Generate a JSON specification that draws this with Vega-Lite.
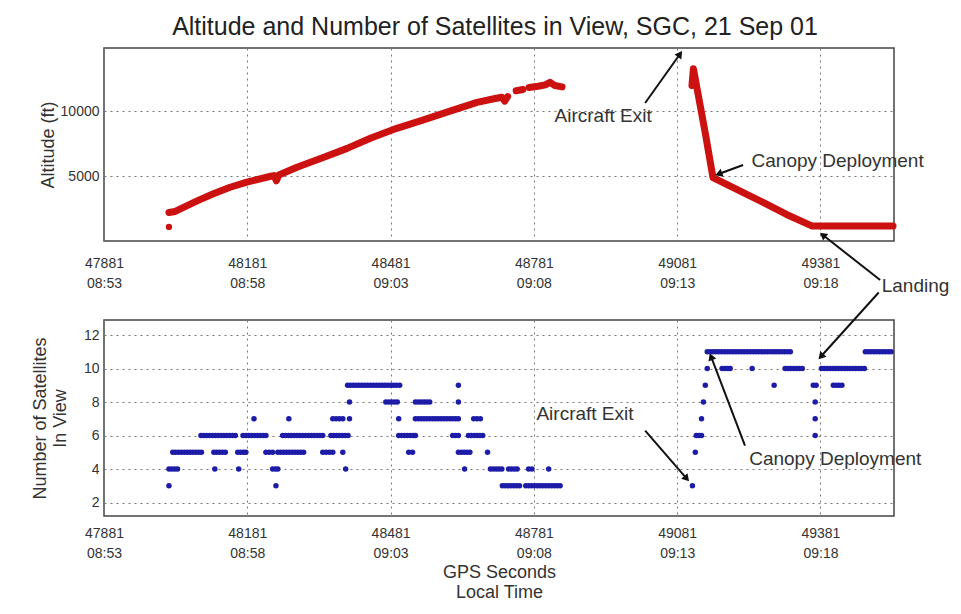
{
"$schema": "https://vega.github.io/schema/vega-lite/v6.json",
"padding": {"left": 30, "top": 14, "right": 0, "bottom": 0},
"background": "white",
"bounds": "flush",
"spacing": 79,
"config": {
  "font": "Liberation Sans",
  "view": {"stroke": "#444", "strokeWidth": 1.5},
  "axis": {"labelFont": "Liberation Sans", "labelFontSize": 14, "labelColor": "#333", "titleFont": "Liberation Sans", "titleFontSize": 18, "titleFontWeight": "normal", "titleColor": "#333", "gridDash": [2, 4], "gridColor": "#777", "gridOpacity": 1, "ticks": false, "domain": false, "labelOverlap": false, "labelFlush": false}
},
"datasets": {
  "alt": [
    {"t":48017,"alt":2200,"seg":"A"},{"t":48030,"alt":2280,"seg":"A"},{"t":48076,"alt":3100,"seg":"A"},{"t":48110,"alt":3650,"seg":"A"},{"t":48145,"alt":4150,"seg":"A"},{"t":48180,"alt":4550,"seg":"A"},{"t":48230,"alt":5000,"seg":"A"},{"t":48237,"alt":5050,"seg":"A"},{"t":48242,"alt":4650,"seg":"A"},{"t":48247,"alt":5100,"seg":"A"},{"t":48285,"alt":5700,"seg":"A"},{"t":48340,"alt":6450,"seg":"A"},{"t":48390,"alt":7150,"seg":"A"},{"t":48440,"alt":7950,"seg":"A"},{"t":48494,"alt":8700,"seg":"A"},{"t":48550,"alt":9350,"seg":"A"},{"t":48599,"alt":9950,"seg":"A"},{"t":48662,"alt":10700,"seg":"A"},{"t":48700,"alt":11000,"seg":"A"},{"t":48714,"alt":11100,"seg":"A"},{"t":48720,"alt":10800,"seg":"A"},{"t":48726,"alt":11150,"seg":"A"},
    {"t":48744,"alt":11600,"seg":"B"},{"t":48758,"alt":11700,"seg":"B"},
    {"t":48771,"alt":11850,"seg":"C"},{"t":48790,"alt":11950,"seg":"C"},{"t":48805,"alt":12050,"seg":"C"},{"t":48815,"alt":12250,"seg":"C"},{"t":48825,"alt":12000,"seg":"C"},{"t":48840,"alt":11900,"seg":"C"},
    {"t":49112,"alt":12000,"seg":"D"},{"t":49115,"alt":13300,"seg":"D"},{"t":49125,"alt":11300,"seg":"D"},{"t":49140,"alt":8300,"seg":"D"},{"t":49156,"alt":4900,"seg":"D"},{"t":49210,"alt":3900,"seg":"D"},{"t":49260,"alt":3000,"seg":"D"},{"t":49310,"alt":2050,"seg":"D"},{"t":49364,"alt":1150,"seg":"D"},{"t":49533,"alt":1150,"seg":"D"}
  ],
  "altpt": [{"t":48017,"alt":1088}],
  "sats": [
    {"t":48017,"n":3},{"t":48241,"n":3},{"t":48715,"n":3},{"t":48721,"n":3},{"t":48727,"n":3},{"t":48733,"n":3},{"t":48739,"n":3},{"t":48745,"n":3},{"t":48751,"n":3},{"t":48764,"n":3},{"t":48770,"n":3},{"t":48776,"n":3},{"t":48782,"n":3},{"t":48788,"n":3},{"t":48794,"n":3},{"t":48800,"n":3},{"t":48806,"n":3},{"t":48812,"n":3},{"t":48818,"n":3},{"t":48824,"n":3},{"t":48830,"n":3},{"t":48836,"n":3},{"t":49113,"n":3},
    {"t":48017,"n":4},{"t":48023,"n":4},{"t":48029,"n":4},{"t":48035,"n":4},{"t":48113,"n":4},{"t":48163,"n":4},{"t":48234,"n":4},{"t":48240,"n":4},{"t":48245,"n":4},{"t":48387,"n":4},{"t":48636,"n":4},{"t":48690,"n":4},{"t":48696,"n":4},{"t":48702,"n":4},{"t":48708,"n":4},{"t":48714,"n":4},{"t":48728,"n":4},{"t":48734,"n":4},{"t":48740,"n":4},{"t":48746,"n":4},{"t":48770,"n":4},{"t":48777,"n":4},{"t":48812,"n":4},
    {"t":48025,"n":5},{"t":48031,"n":5},{"t":48037,"n":5},{"t":48043,"n":5},{"t":48049,"n":5},{"t":48055,"n":5},{"t":48061,"n":5},{"t":48067,"n":5},{"t":48073,"n":5},{"t":48079,"n":5},{"t":48085,"n":5},{"t":48111,"n":5},{"t":48117,"n":5},{"t":48123,"n":5},{"t":48129,"n":5},{"t":48135,"n":5},{"t":48161,"n":5},{"t":48167,"n":5},{"t":48173,"n":5},{"t":48178,"n":5},{"t":48220,"n":5},{"t":48227,"n":5},{"t":48234,"n":5},{"t":48245,"n":5},{"t":48251,"n":5},{"t":48257,"n":5},{"t":48263,"n":5},{"t":48269,"n":5},{"t":48275,"n":5},{"t":48281,"n":5},{"t":48287,"n":5},{"t":48293,"n":5},{"t":48299,"n":5},{"t":48339,"n":5},{"t":48346,"n":5},{"t":48353,"n":5},{"t":48360,"n":5},{"t":48381,"n":5},{"t":48519,"n":5},{"t":48527,"n":5},{"t":48623,"n":5},{"t":48629,"n":5},{"t":48635,"n":5},{"t":48641,"n":5},{"t":48647,"n":5},{"t":48684,"n":5},{"t":49119,"n":5},
    {"t":48084,"n":6},{"t":48090,"n":6},{"t":48096,"n":6},{"t":48102,"n":6},{"t":48108,"n":6},{"t":48114,"n":6},{"t":48120,"n":6},{"t":48126,"n":6},{"t":48132,"n":6},{"t":48138,"n":6},{"t":48144,"n":6},{"t":48150,"n":6},{"t":48156,"n":6},{"t":48172,"n":6},{"t":48178,"n":6},{"t":48184,"n":6},{"t":48190,"n":6},{"t":48196,"n":6},{"t":48202,"n":6},{"t":48208,"n":6},{"t":48214,"n":6},{"t":48220,"n":6},{"t":48255,"n":6},{"t":48261,"n":6},{"t":48267,"n":6},{"t":48273,"n":6},{"t":48279,"n":6},{"t":48285,"n":6},{"t":48291,"n":6},{"t":48297,"n":6},{"t":48303,"n":6},{"t":48309,"n":6},{"t":48315,"n":6},{"t":48321,"n":6},{"t":48327,"n":6},{"t":48333,"n":6},{"t":48339,"n":6},{"t":48356,"n":6},{"t":48362,"n":6},{"t":48368,"n":6},{"t":48374,"n":6},{"t":48380,"n":6},{"t":48386,"n":6},{"t":48392,"n":6},{"t":48498,"n":6},{"t":48504,"n":6},{"t":48510,"n":6},{"t":48516,"n":6},{"t":48522,"n":6},{"t":48528,"n":6},{"t":48533,"n":6},{"t":48611,"n":6},{"t":48617,"n":6},{"t":48623,"n":6},{"t":48644,"n":6},{"t":48650,"n":6},{"t":48656,"n":6},{"t":48662,"n":6},{"t":48668,"n":6},{"t":48674,"n":6},{"t":49121,"n":6},{"t":49127,"n":6},{"t":49132,"n":6},{"t":49370,"n":6},
    {"t":48195,"n":7},{"t":48268,"n":7},{"t":48360,"n":7},{"t":48367,"n":7},{"t":48374,"n":7},{"t":48381,"n":7},{"t":48395,"n":7},{"t":48498,"n":7},{"t":48533,"n":7},{"t":48539,"n":7},{"t":48545,"n":7},{"t":48551,"n":7},{"t":48557,"n":7},{"t":48563,"n":7},{"t":48569,"n":7},{"t":48575,"n":7},{"t":48581,"n":7},{"t":48587,"n":7},{"t":48593,"n":7},{"t":48599,"n":7},{"t":48605,"n":7},{"t":48611,"n":7},{"t":48617,"n":7},{"t":48623,"n":7},{"t":48655,"n":7},{"t":48662,"n":7},{"t":48669,"n":7},{"t":49132,"n":7},{"t":49370,"n":7},
    {"t":48395,"n":8},{"t":48471,"n":8},{"t":48477,"n":8},{"t":48483,"n":8},{"t":48489,"n":8},{"t":48495,"n":8},{"t":48533,"n":8},{"t":48539,"n":8},{"t":48545,"n":8},{"t":48551,"n":8},{"t":48557,"n":8},{"t":48563,"n":8},{"t":48623,"n":8},{"t":49136,"n":8},{"t":49370,"n":8},
    {"t":48391,"n":9},{"t":48397,"n":9},{"t":48403,"n":9},{"t":48409,"n":9},{"t":48415,"n":9},{"t":48421,"n":9},{"t":48427,"n":9},{"t":48433,"n":9},{"t":48439,"n":9},{"t":48445,"n":9},{"t":48451,"n":9},{"t":48457,"n":9},{"t":48463,"n":9},{"t":48469,"n":9},{"t":48475,"n":9},{"t":48481,"n":9},{"t":48487,"n":9},{"t":48493,"n":9},{"t":48500,"n":9},{"t":48623,"n":9},{"t":49140,"n":9},{"t":49284,"n":9},{"t":49366,"n":9},{"t":49372,"n":9},{"t":49408,"n":9},{"t":49414,"n":9},{"t":49420,"n":9},{"t":49426,"n":9},
    {"t":49144,"n":10},{"t":49175,"n":10},{"t":49181,"n":10},{"t":49187,"n":10},{"t":49192,"n":10},{"t":49238,"n":10},{"t":49307,"n":10},{"t":49313,"n":10},{"t":49319,"n":10},{"t":49325,"n":10},{"t":49331,"n":10},{"t":49337,"n":10},{"t":49343,"n":10},{"t":49383,"n":10},{"t":49389,"n":10},{"t":49395,"n":10},{"t":49401,"n":10},{"t":49407,"n":10},{"t":49413,"n":10},{"t":49419,"n":10},{"t":49425,"n":10},{"t":49431,"n":10},{"t":49437,"n":10},{"t":49443,"n":10},{"t":49449,"n":10},{"t":49455,"n":10},{"t":49461,"n":10},{"t":49467,"n":10},{"t":49473,"n":10},
    {"t":49144,"n":11},{"t":49150,"n":11},{"t":49156,"n":11},{"t":49162,"n":11},{"t":49168,"n":11},{"t":49174,"n":11},{"t":49180,"n":11},{"t":49186,"n":11},{"t":49192,"n":11},{"t":49198,"n":11},{"t":49204,"n":11},{"t":49210,"n":11},{"t":49216,"n":11},{"t":49222,"n":11},{"t":49228,"n":11},{"t":49234,"n":11},{"t":49240,"n":11},{"t":49246,"n":11},{"t":49252,"n":11},{"t":49258,"n":11},{"t":49264,"n":11},{"t":49270,"n":11},{"t":49276,"n":11},{"t":49282,"n":11},{"t":49288,"n":11},{"t":49294,"n":11},{"t":49300,"n":11},{"t":49306,"n":11},{"t":49312,"n":11},{"t":49318,"n":11},{"t":49475,"n":11},{"t":49481,"n":11},{"t":49487,"n":11},{"t":49493,"n":11},{"t":49499,"n":11},{"t":49505,"n":11},{"t":49511,"n":11},{"t":49517,"n":11},{"t":49523,"n":11},{"t":49529,"n":11}
  ],
  "notesTop": [
    {"label":"Aircraft Exit","txt":"Aircraft Exit","tx":48926,"ty":9650,"x1":49014,"y1":10654,"x2":49087,"y2":14436},
    {"label":"Canopy Deployment","txt":"Canopy Deployment","tx":49417,"ty":6176,"x1":49219,"y1":5867,"x2":49168,"y2":5172},
    {"label":"Landing","txt":"Landing","tx":49580,"ty":-3474,"x1":49506,"y1":-3011,"x2":49386,"y2":463}
  ],
  "notesBottom": [
    {"label":"Aircraft Exit","txt":"Aircraft Exit","tx":48888,"ty":7.31,"x1":49014,"y1":6.3,"x2":49101,"y2":3.43},
    {"label":"Canopy Deployment","txt":"Canopy Deployment","tx":49412,"ty":4.63,"x1":49223,"y1":5.4,"x2":49152,"y2":10.72},
    {"label":"Landing","txt":"","tx":49503,"ty":14.54,"x1":49503,"y1":14.54,"x2":49382,"y2":10.72}
  ]
},
"vconcat": [
  {
    "width": 790, "height": 193,
    "title": {"text": "Altitude and Number of Satellites in View, SGC, 21 Sep 01", "fontSize": 25, "fontWeight": "normal", "color": "#222", "font": "Liberation Sans", "frame": "group", "anchor": "middle", "offset": 8, "dx": -4},
    "layer": [
      {"data": {"name": "alt"},
       "mark": {"type": "line", "color": "#cc1111", "strokeWidth": 7, "strokeCap": "round", "strokeJoin": "round"},
       "encoding": {
         "x": {"field": "t", "type": "quantitative", "scale": {"domain": [47881, 49535], "nice": false, "zero": false},
               "axis": {"title": null, "values": [47881, 48181, 48481, 48781, 49081, 49381], "tickCount": 12, "labelPadding": 15, "labelLineHeight": 20,
                        "labelExpr": "[format(datum.value, 'd'), timeFormat(time(datetime(2001, 8, 21, 8, 53, 0)) + (datum.value - 47881) * 1000, '%H:%M')]"}},
         "y": {"field": "alt", "type": "quantitative", "scale": {"domain": [0, 14900], "nice": false},
               "axis": {"title": "Altitude (ft)", "values": [5000, 10000], "tickCount": 12, "format": "d", "labelPadding": 5, "titlePadding": 3}},
         "detail": {"field": "seg"}
       }},
      {"data": {"name": "altpt"},
       "mark": {"type": "circle", "color": "#cc1111", "size": 40, "opacity": 1},
       "encoding": {"x": {"field": "t", "type": "quantitative"},
                    "y": {"field": "alt", "type": "quantitative"}}},
      {"data": {"name": "notesTop"},
       "mark": {"type": "rule", "color": "#111", "strokeWidth": 2},
       "encoding": {"x": {"field": "x1", "type": "quantitative"}, "y": {"field": "y1", "type": "quantitative"},
                    "x2": {"field": "x2"}, "y2": {"field": "y2"}}},
      {"data": {"name": "notesTop"}, "transform": [{"filter": "datum.label === 'Aircraft Exit'"}],
       "mark": {"type": "point", "shape": "triangle-up", "filled": true, "color": "#111", "size": 70, "opacity": 1, "angle": 35.5},
       "encoding": {"x": {"field": "x2", "type": "quantitative"}, "y": {"field": "y2", "type": "quantitative"}}},
      {"data": {"name": "notesTop"}, "transform": [{"filter": "datum.label === 'Canopy Deployment'"}],
       "mark": {"type": "point", "shape": "triangle-up", "filled": true, "color": "#111", "size": 70, "opacity": 1, "angle": 249.4},
       "encoding": {"x": {"field": "x2", "type": "quantitative"}, "y": {"field": "y2", "type": "quantitative"}}},
      {"data": {"name": "notesTop"}, "transform": [{"filter": "datum.label === 'Landing'"}],
       "mark": {"type": "point", "shape": "triangle-up", "filled": true, "color": "#111", "size": 70, "opacity": 1, "angle": 308.3},
       "encoding": {"x": {"field": "x2", "type": "quantitative"}, "y": {"field": "y2", "type": "quantitative"}}},
      {"data": {"name": "notesTop"},
       "mark": {"type": "text", "fontSize": 19, "color": "#333", "font": "Liberation Sans", "align": "center", "baseline": "middle"},
       "encoding": {"x": {"field": "tx", "type": "quantitative"}, "y": {"field": "ty", "type": "quantitative"}, "text": {"field": "txt"}}}
    ]
  },
  {
    "width": 790, "height": 196,
    "layer": [
      {"data": {"name": "sats"},
       "mark": {"type": "circle", "color": "#1c1ca8", "size": 30, "opacity": 1},
       "encoding": {
         "x": {"field": "t", "type": "quantitative", "scale": {"domain": [47881, 49535], "nice": false, "zero": false},
               "axis": {"title": ["GPS Seconds", "Local Time"], "titlePadding": 3, "titleLineHeight": 20, "values": [47881, 48181, 48481, 48781, 49081, 49381], "tickCount": 12, "labelPadding": 10, "labelLineHeight": 20,
                        "labelExpr": "[format(datum.value, 'd'), timeFormat(time(datetime(2001, 8, 21, 8, 53, 0)) + (datum.value - 47881) * 1000, '%H:%M')]"}},
         "y": {"field": "n", "type": "quantitative", "scale": {"domain": [1.2, 12.9], "nice": false, "zero": false},
               "axis": {"title": ["Number of Satellites", "In View"], "titleLineHeight": 20, "values": [2, 4, 6, 8, 10, 12], "tickCount": 12, "labelPadding": 5, "titlePadding": 14}}
       }},
      {"data": {"name": "notesBottom"},
       "mark": {"type": "rule", "color": "#111", "strokeWidth": 2},
       "encoding": {"x": {"field": "x1", "type": "quantitative"}, "y": {"field": "y1", "type": "quantitative"},
                    "x2": {"field": "x2"}, "y2": {"field": "y2"}}},
      {"data": {"name": "notesBottom"}, "transform": [{"filter": "datum.label === 'Aircraft Exit'"}],
       "mark": {"type": "point", "shape": "triangle-up", "filled": true, "color": "#111", "size": 70, "opacity": 1, "angle": 138.8},
       "encoding": {"x": {"field": "x2", "type": "quantitative"}, "y": {"field": "y2", "type": "quantitative"}}},
      {"data": {"name": "notesBottom"}, "transform": [{"filter": "datum.label === 'Canopy Deployment'"}],
       "mark": {"type": "point", "shape": "triangle-up", "filled": true, "color": "#111", "size": 70, "opacity": 1, "angle": 339.1},
       "encoding": {"x": {"field": "x2", "type": "quantitative"}, "y": {"field": "y2", "type": "quantitative"}}},
      {"data": {"name": "notesBottom"}, "transform": [{"filter": "datum.label === 'Landing'"}],
       "mark": {"type": "point", "shape": "triangle-up", "filled": true, "color": "#111", "size": 70, "opacity": 1, "angle": 222.2},
       "encoding": {"x": {"field": "x2", "type": "quantitative"}, "y": {"field": "y2", "type": "quantitative"}}},
      {"data": {"name": "notesBottom"},
       "mark": {"type": "text", "fontSize": 19, "color": "#333", "font": "Liberation Sans", "align": "center", "baseline": "middle"},
       "encoding": {"x": {"field": "tx", "type": "quantitative"}, "y": {"field": "ty", "type": "quantitative"}, "text": {"field": "txt"}}}
    ]
  }
]
}
